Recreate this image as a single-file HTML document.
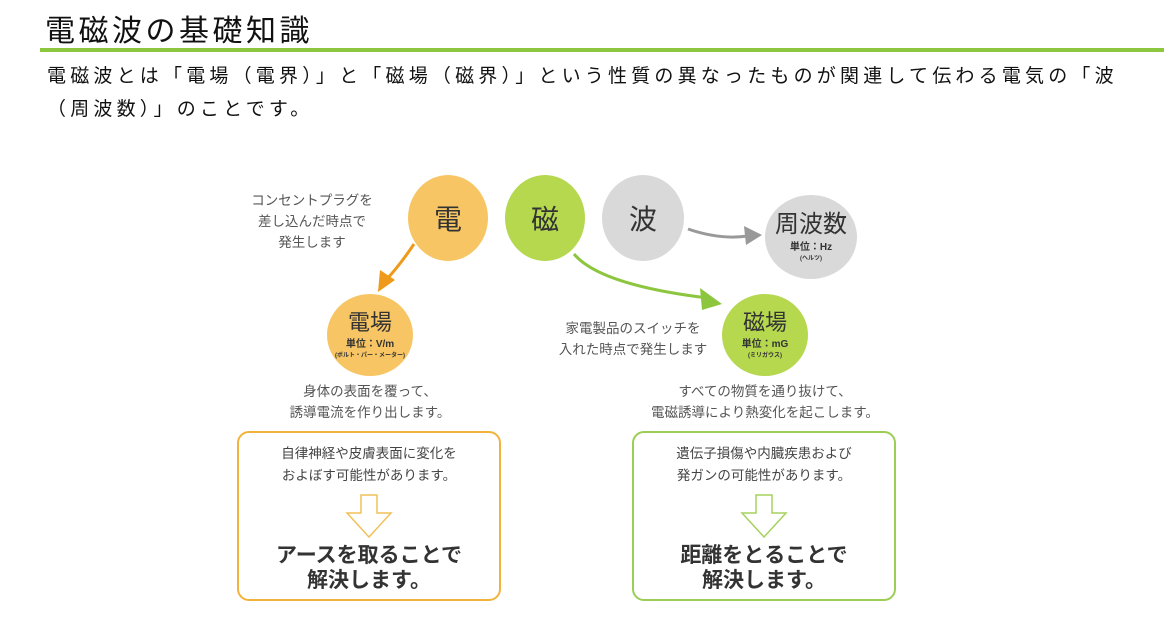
<!DOCTYPE html>
<html><head><meta charset="utf-8"><style>
body{margin:0;width:1174px;height:632px;background:#fff;position:relative;overflow:hidden;font-family:"Liberation Sans","Noto Sans CJK JP",sans-serif;color:#222}
.a{position:absolute;white-space:nowrap}
.c{position:absolute;border-radius:50%;display:flex;flex-direction:column;align-items:center;justify-content:center;color:#333}
.t{position:absolute;text-align:center;font-size:13.5px;color:#555;line-height:21px;white-space:nowrap}
.box{position:absolute;border:2px solid;border-radius:12px;box-sizing:border-box;text-align:center}
</style></head><body>
<div class="a" style="left:45px;top:6px;font-size:30px;letter-spacing:3.5px;color:#111">電磁波の基礎知識</div>
<div class="a" style="left:40px;top:48px;width:1124px;height:4px;background:#8dc63f"></div>
<div class="a" style="left:47px;top:60px;font-size:19px;letter-spacing:4.2px;line-height:33px;color:#111">電磁波とは「電場（電界）」と「磁場（磁界）」という性質の異なったものが関連して伝わる電気の「波<br>（周波数）」のことです。</div>

<svg class="a" style="left:0;top:0" width="1174" height="632">
<path d="M414 244 Q400 265 386 280" stroke="#ef9a1a" stroke-width="3" fill="none"/>
<polygon points="378,292 380,270 395,280" fill="#ef9a1a"/>
<path d="M574 254 Q600 285 708 298" stroke="#8cc63f" stroke-width="3" fill="none"/>
<polygon points="722,304 700,288 702,310" fill="#8cc63f"/>
<path d="M688 229 Q720 240 748 236" stroke="#999" stroke-width="3" fill="none"/>
<polygon points="762,235 744,226 746,245" fill="#999"/>
</svg>

<div class="t" style="left:242px;top:190px;width:140px">コンセントプラグを<br>差し込んだ時点で<br>発生します</div>
<div class="c" style="left:408px;top:175px;width:80px;height:86px;background:#f7c563;font-size:28px">電</div>
<div class="c" style="left:505px;top:175px;width:80px;height:86px;background:#b5d84f;font-size:28px">磁</div>
<div class="c" style="left:602px;top:175px;width:82px;height:86px;background:#d9d9d9;font-size:28px">波</div>
<div class="c" style="left:765px;top:195px;width:92px;height:84px;background:#d9d9d9"><div style="font-size:24px;line-height:26px">周波数</div><div style="font-size:10px;font-weight:bold">単位：Hz</div><div style="font-size:6px;font-weight:bold">(ヘルツ)</div></div>
<div class="c" style="left:327px;top:294px;width:86px;height:82px;background:#f7c563"><div style="font-size:22px;line-height:24px">電場</div><div style="font-size:10px;font-weight:bold">単位：V/m</div><div style="font-size:6px;font-weight:bold">(ボルト・パー・メーター)</div></div>
<div class="c" style="left:722px;top:294px;width:86px;height:82px;background:#b5d84f"><div style="font-size:22px;line-height:24px">磁場</div><div style="font-size:10px;font-weight:bold">単位：mG</div><div style="font-size:6px;font-weight:bold">(ミリガウス)</div></div>
<div class="t" style="left:540px;top:318px;width:186px">家電製品のスイッチを<br>入れた時点で発生します</div>
<div class="t" style="left:270px;top:381px;width:200px">身体の表面を覆って、<br>誘導電流を作り出します。</div>
<div class="t" style="left:630px;top:381px;width:270px">すべての物質を通り抜けて、<br>電磁誘導により熱変化を起こします。</div>

<div class="box" style="left:237px;top:431px;width:264px;height:170px;border-color:#f2b33d">
<div style="font-size:13.5px;color:#444;line-height:22px;margin-top:10px">自律神経や皮膚表面に変化を<br>およぼす可能性があります。</div>
<svg width="60" height="48" style="display:block;margin:6px auto 0"><polygon points="22,2 38,2 38,20 52,20 30,44 8,20 22,20" fill="none" stroke="#f2c05a" stroke-width="1.5"/></svg>
<div style="font-size:21px;font-weight:bold;color:#333;line-height:25px;margin-top:2px">アースを取ることで<br>解決します。</div></div>
<div class="box" style="left:632px;top:431px;width:264px;height:170px;border-color:#9ccd54">
<div style="font-size:13.5px;color:#444;line-height:22px;margin-top:10px">遺伝子損傷や内臓疾患および<br>発ガンの可能性があります。</div>
<svg width="60" height="48" style="display:block;margin:6px auto 0"><polygon points="22,2 38,2 38,20 52,20 30,44 8,20 22,20" fill="none" stroke="#a6d25e" stroke-width="1.5"/></svg>
<div style="font-size:21px;font-weight:bold;color:#333;line-height:25px;margin-top:2px">距離をとることで<br>解決します。</div></div>
</body></html>
